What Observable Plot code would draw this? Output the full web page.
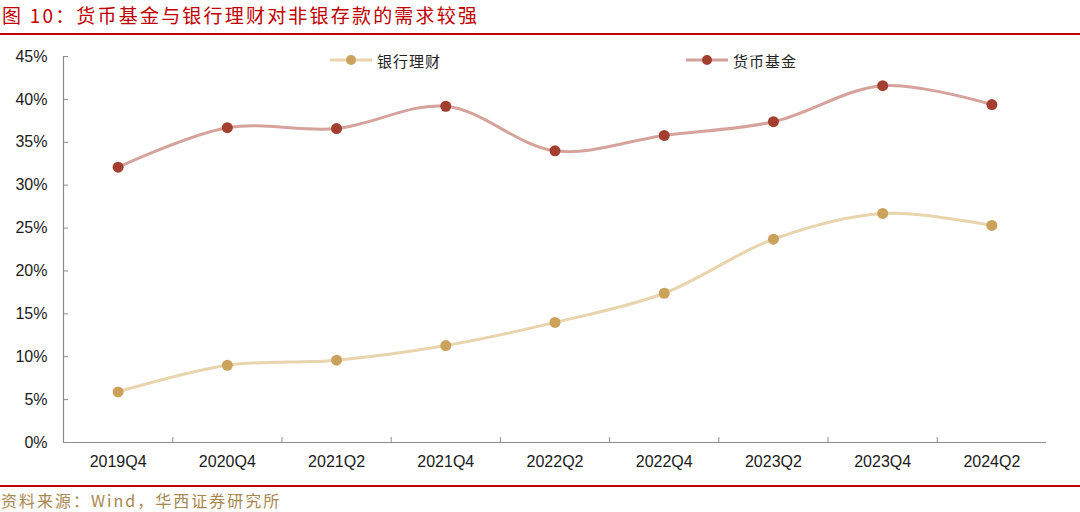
<!DOCTYPE html>
<html><head><meta charset="utf-8">
<script src="https://cdn.jsdelivr.net/npm/d3@7"></script>
<script src="https://cdn.jsdelivr.net/npm/@observablehq/plot@0.6"></script>
<style>
body{margin:0;background:#fff;width:1080px;height:512px;overflow:hidden;position:relative;font-family:"Noto Sans CJK SC",sans-serif;}
#title{height:33px;line-height:30px;font-size:19px;letter-spacing:2.2px;color:#c00000;padding-left:2px;box-sizing:border-box;}
.rule{height:2px;background:#c00000;}
#chart{height:450px;position:relative;}
#src{font-size:16px;line-height:26px;color:#a8864f;letter-spacing:2px;padding-left:1px;}
#legend{position:absolute;top:50px;left:0;width:1080px;height:22px;font-size:15px;color:#222;}
.lg{position:absolute;top:0;display:flex;align-items:center;height:20px;}
.lg svg{margin-right:5px;}
</style></head>
<body>
<div id="title">图 10：货币基金与银行理财对非银存款的需求较强</div>
<div class="rule"></div>
<div id="chart"></div>
<div class="rule"></div>
<div id="src">资料来源：Wind，华西证券研究所</div>
<div id="legend"></div>
<script>
const categories = ["2019Q4","2020Q4","2021Q2","2021Q4","2022Q2","2022Q4","2023Q2","2023Q4","2024Q2"];
const wealth = [5.9, 9.0, 9.6, 11.3, 14.0, 17.4, 23.7, 26.7, 25.3];      // 银行理财
const moneyFund = [32.1, 36.7, 36.6, 39.2, 34.0, 35.8, 37.4, 41.6, 39.4]; // 货币基金
const seriesNames = ["银行理财","货币基金"];
const yTicks = [0,5,10,15,20,25,30,35,40,45];

const lineColors = {"银行理财":"#e8d4ad","货币基金":"#d6a29c"};
const dotColors = {"银行理财":"#caa25c","货币基金":"#a23f2f"};

const rows = [];
categories.forEach((c,i)=>{
  rows.push({series:"银行理财", i, cat:c, v:wealth[i]});
  rows.push({series:"货币基金", i, cat:c, v:moneyFund[i]});
});
const idx = categories.map((c,i)=>i);
const bounds = categories.slice(1).map((c,i)=>i+0.5);

const chart = Plot.plot({
  width:1080, height:450,
  marginTop:21, marginBottom:43, marginLeft:63, marginRight:34,
  style:{fontFamily:"Liberation Sans, Arial, sans-serif", fontSize:"16px", color:"#1a1a1a", background:"transparent"},
  x:{type:"linear", domain:[-0.5, categories.length-0.5]},
  y:{domain:[0,45]},
  marks:[
    Plot.ruleY([0], {stroke:"#8c8c8c", strokeWidth:1.2}),
    Plot.ruleX([-0.5], {stroke:"#8c8c8c", strokeWidth:1.2}),
    Plot.axisY({ticks:yTicks, tickSize:5, dx:5, tickFormat:()=>"", stroke:"#8c8c8c", label:null}),
    Plot.axisY({ticks:yTicks, tickSize:0, tickPadding:16, tickFormat:d=>d+"%", label:null, fontSize:16, fill:"#1a1a1a"}),
    Plot.axisX({ticks:bounds, tickSize:5, dy:-5, tickFormat:()=>"", stroke:"#8c8c8c", label:null}),
    Plot.axisX({ticks:idx, tickSize:0, tickPadding:13, tickFormat:i=>categories[i], label:null, fontSize:16, fill:"#1a1a1a"}),
    ...seriesNames.map(s=>Plot.line(rows.filter(d=>d.series===s), {x:"i", y:"v", stroke:lineColors[s], strokeWidth:3, curve:"catmull-rom"})),
    ...seriesNames.map(s=>Plot.dot(rows.filter(d=>d.series===s), {x:"i", y:"v", fill:dotColors[s], r:5.5}))
  ]
});
document.getElementById("chart").appendChild(chart);

const lpos = {"银行理财":330,"货币基金":686};
const leg = document.getElementById("legend");
seriesNames.forEach(s=>{
  const d = document.createElement("div");
  d.className="lg"; d.style.left=lpos[s]+"px";
  d.innerHTML = `<svg width="42" height="12"><line x1="0" y1="6" x2="42" y2="6" stroke="${lineColors[s]}" stroke-width="3"/><circle cx="21" cy="6" r="5" fill="${dotColors[s]}"/></svg><span style="letter-spacing:1px">${s}</span>`;
  leg.appendChild(d);
});
</script>
</body></html>
